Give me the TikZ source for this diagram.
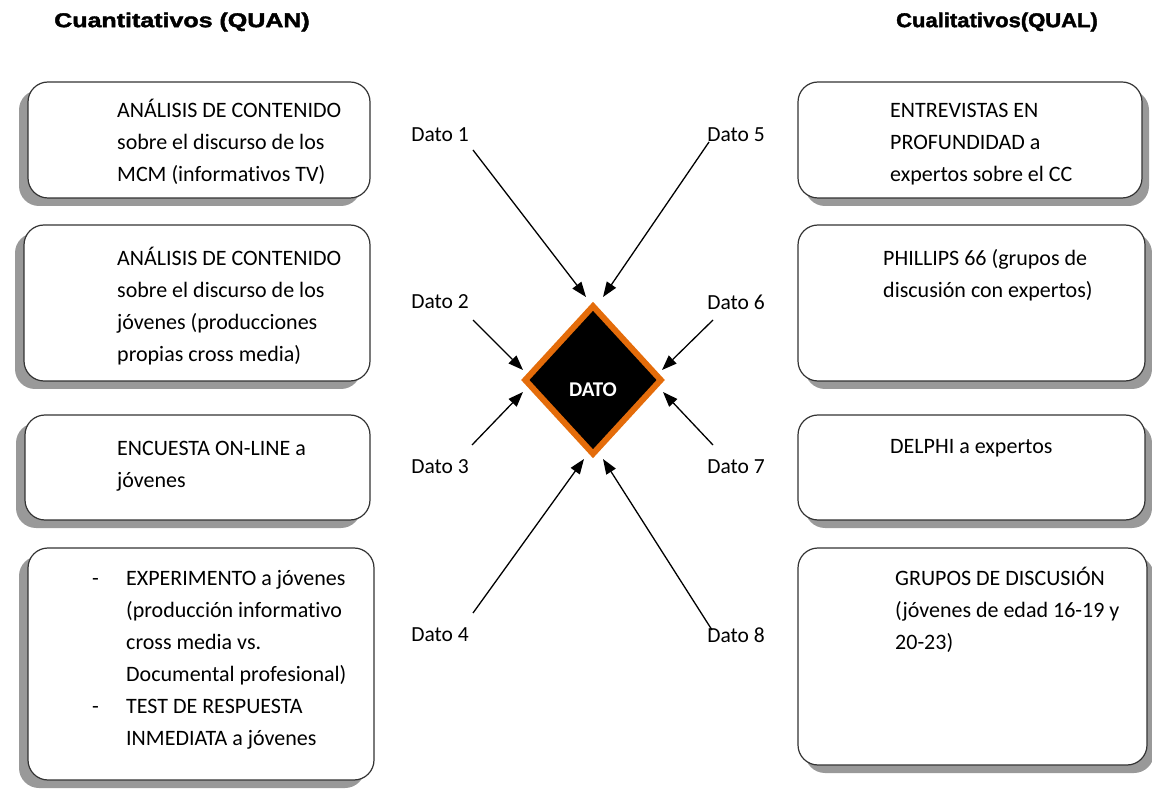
\documentclass[tikz,border=0pt]{standalone}
\usepackage{fontspec}
\usepackage{graphicx}
\setmainfont{Carlito}[Ligatures={NoCommon}]
\newfontfamily\titlefont[FakeBold=1.8]{Liberation Sans Bold}
\usetikzlibrary{shapes.geometric,shadows,arrows.meta}
\definecolor{dorange}{RGB}{228,108,10}
\tikzset{
  boxbase/.style={draw=black!80, line width=1.2pt, fill=white, rounded corners=20pt, inner sep=0pt},
  lbox/.style={boxbase, general shadow={fill=black!40, shadow xshift=-9pt, shadow yshift=-8pt}},
  rbox/.style={boxbase, general shadow={fill=black!40, shadow xshift=7pt, shadow yshift=-8pt}},
  txt/.style={font=\fontsize{22}{32}\selectfont, align=left, anchor=north west, inner sep=0pt, text=black},
  datolbl/.style={font=\fontsize{21.5}{26}\selectfont, inner sep=0pt, text=black},
  arr/.style={line width=1.3pt, -{Triangle[length=15pt,width=11pt]}},
  ttl/.style={inner sep=0pt}
}
\begin{document}
\begin{tikzpicture}[x=1pt,y=-1pt]
\useasboundingbox (0,0) rectangle (1152,791);
% titles
\node[ttl] (tl) at (182,22) {\scalebox{1.25}[1]{\titlefont\fontsize{20}{24}\selectfont Cuantitativos (QUAN)}};
\node[ttl] (tr) at (997,22) {\scalebox{1.10}[1]{\titlefont\fontsize{20}{24}\selectfont Cualitativos(QUAL)}};
% left boxes
\node[lbox, minimum width=342pt, minimum height=116pt] (b1) at (199,140) {};
\node[lbox, minimum width=346pt, minimum height=156pt] (b2) at (197,303) {};
\node[lbox, minimum width=345pt, minimum height=105pt] (b3) at (197.5,467.5) {};
\node[lbox, minimum width=346pt, minimum height=232pt] (b4) at (201,664) {};
% right boxes
\node[rbox, minimum width=344pt, minimum height=116pt] (b5) at (970,140) {};
\node[rbox, minimum width=347pt, minimum height=156pt] (b6) at (971.5,303) {};
\node[rbox, minimum width=347pt, minimum height=105pt] (b7) at (971.5,467.5) {};
\node[rbox, minimum width=349pt, minimum height=217pt] (b8) at (972.5,656.5) {};
% texts
\node[txt] (t1) at (117,94.6) {\strut ANÁLISIS DE CONTENIDO\\sobre el discurso de los\\MCM (informativos TV)};
\node[txt] (t2) at (117,242.6) {\strut ANÁLISIS DE CONTENIDO\\sobre el discurso de los\\jóvenes (producciones\\propias cross media)};
\node[txt] (t3) at (117,432.6) {\strut ENCUESTA ON-LINE a\\jóvenes};
\node[txt] (t4a) at (92,562.6) {\strut -};
\node[txt] (t4b) at (92,690.6) {\strut -};
\node[txt] (t4) at (126,562.6) {\strut EXPERIMENTO a jóvenes\\(producción informativo\\cross media vs.\\Documental profesional)\\TEST DE RESPUESTA\\INMEDIATA a jóvenes};
\node[txt] (t5) at (890,94.6) {\strut ENTREVISTAS EN\\PROFUNDIDAD a\\expertos sobre el CC};
\node[txt] (t6) at (883,242.6) {\strut PHILLIPS 66 (grupos de\\discusión con expertos)};
\node[txt] (t7) at (890,430.6) {\strut DELPHI a expertos};
\node[txt] (t8) at (895,562.6) {\strut GRUPOS DE DISCUSIÓN\\(jóvenes de edad 16-19 y\\20-23)};
% diamond
\node[diamond, draw=dorange, line width=6pt, fill=black, minimum width=138pt, minimum height=150pt, inner sep=0pt,
      text=white, font=\bfseries\fontsize{21}{24}\selectfont] (dato) at (593,380) {\raisebox{-16.5pt}[0pt][0pt]{DATO}};
% labels
\node[datolbl] (d1) at (440,135) {Dato 1};
\node[datolbl] (d2) at (440,302) {Dato 2};
\node[datolbl] (d3) at (440,467) {Dato 3};
\node[datolbl] (d4) at (440,635) {Dato 4};
\node[datolbl] (d5) at (736,135) {Dato 5};
\node[datolbl] (d6) at (736,302) {Dato 6};
\node[datolbl] (d7) at (736,467) {Dato 7};
\node[datolbl] (d8) at (736,635) {Dato 8};
% arrow tips
\coordinate (e1) at (586,297);
\coordinate (e5) at (603,297);
\coordinate (e2) at (523,370);
\coordinate (e3) at (523,392);
\coordinate (e6) at (662,370);
\coordinate (e7) at (663,392);
\coordinate (e4) at (584,459);
\coordinate (e8) at (603,459);
% arrows
\draw[arr] ([shift={(33,15)}]d1.center) -- (e1);
\draw[arr] ([shift={(33,18)}]d2.center) -- (e2);
\draw[arr] ([shift={(32,-22)}]d3.center) -- (e3);
\draw[arr] ([shift={(33,-22)}]d4.center) -- (e4);
\draw[arr] ([shift={(-27,7)}]d5.center) -- (e5);
\draw[arr] ([shift={(-23,18)}]d6.center) -- (e6);
\draw[arr] ([shift={(-23,-22)}]d7.center) -- (e7);
\draw[arr] ([shift={(-24,-5)}]d8.center) -- (e8);
\end{tikzpicture}
\end{document}
